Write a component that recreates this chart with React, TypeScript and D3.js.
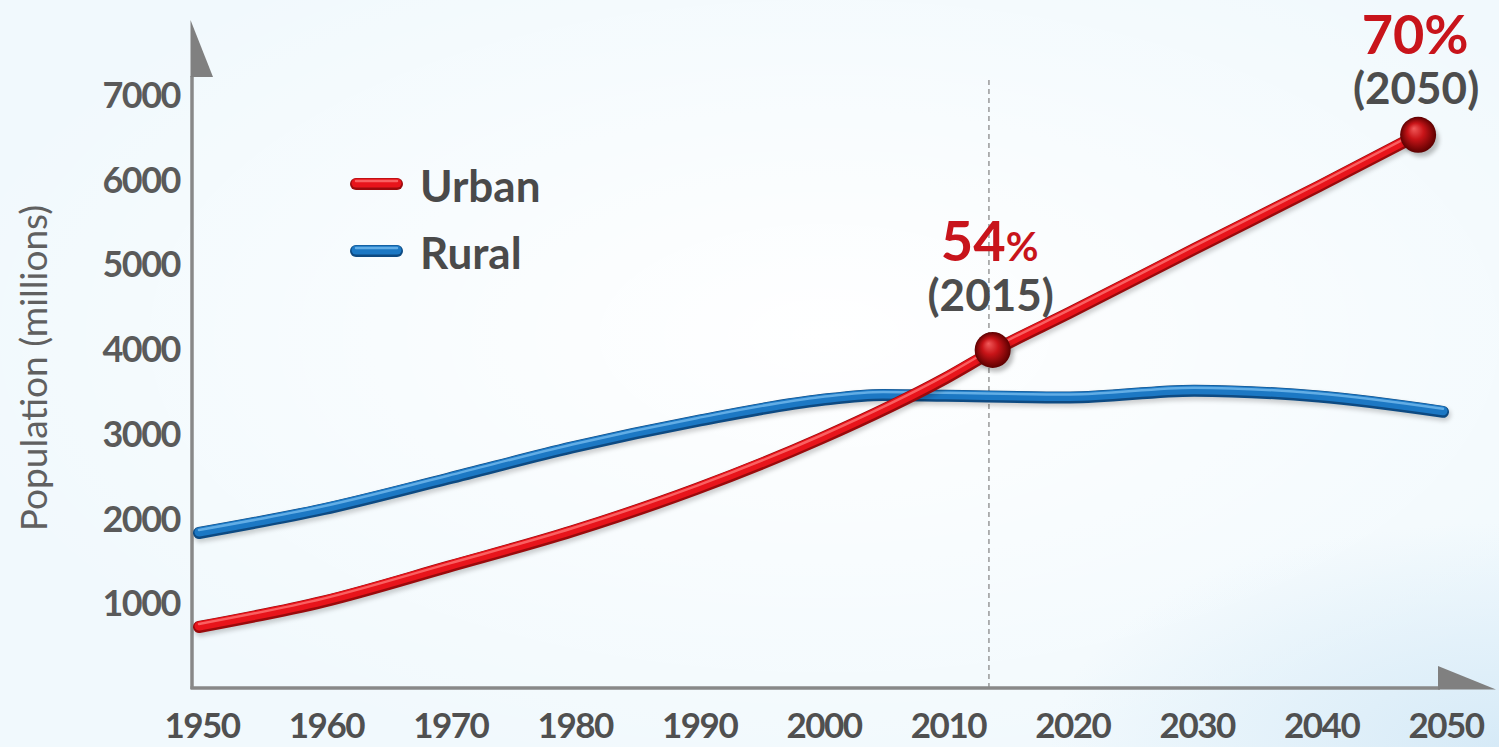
import React from 'react';
import * as d3 from 'd3';

// Population series (millions)
const urbanYears = [1950, 1960, 1970, 1980, 1990, 2000, 2010, 2014, 2020, 2030, 2040, 2048];
const urbanValues = [720, 1020, 1430, 1850, 2350, 2945, 3655, 3990, 4430, 5180, 5920, 6530];

const ruralYears = [1950, 1960, 1970, 1980, 1990, 2000, 2005, 2010, 2020, 2030, 2040, 2050];
const ruralValues = [1830, 2110, 2470, 2840, 3150, 3400, 3460, 3450, 3430, 3510, 3440, 3260];

// Axis ticks
const xTicks = [1950, 1960, 1970, 1980, 1990, 2000, 2010, 2020, 2030, 2040, 2050];
const yTicks = [1000, 2000, 3000, 4000, 5000, 6000, 7000];

// Highlighted points on the urban curve
const markerYears = [2013.8, 2048];
const markerValues = [3990, 6530];
const markerPct = ['54', '70'];
const markerLabels = ['(2015)', '(2050)'];
const guideYear = 2013.5;

const legendLabels = ['Urban', 'Rural'];

const W = 1499;
const H = 747;
const FONT = 'Lato, "Open Sans", sans-serif';

const tubes = [
  { dark: '#9a0a0c', mid: '#e8141b', light: '#ff7a7a' },
  { dark: '#0d4a82', mid: '#1c78c4', light: '#79bff0' },
];

const App = () => {
  // Scales
  const x = d3.scaleLinear().domain([1950, 2050]).range([199, 1443]);
  const y = d3.scaleLinear().domain([0, 7000]).range([688, 95]);

  const line = d3
    .line<[number, number]>()
    .x(d => x(d[0]))
    .y(d => y(d[1]))
    .curve(d3.curveMonotoneX);

  const urbanPath = line(urbanYears.map((yr, i) => [yr, urbanValues[i]])) || '';
  const ruralPath = line(ruralYears.map((yr, i) => [yr, ruralValues[i]])) || '';

  // Draw a "3D tube" look with stacked strokes
  const tube = (d: string, c: { dark: string; mid: string; light: string }, key: string) => (
    <g key={key} fill="none" strokeLinecap="round" strokeLinejoin="round">
      <path d={d} stroke="rgba(0,0,0,0.18)" strokeWidth={13} transform="translate(1.5,3)" filter="url(#blur)" />
      <path d={d} stroke={c.dark} strokeWidth={12} />
      <path d={d} stroke={c.mid} strokeWidth={9} transform="translate(0,-1)" />
      <path d={d} stroke={c.light} strokeWidth={2.5} opacity={0.75} transform="translate(0,-3)" />
    </g>
  );

  return (
    <svg width={W} height={H} style={{ position: 'absolute', left: 0, top: 0 }} fontFamily={FONT}>
      <defs>
        <radialGradient id="bgWhite" cx="0.55" cy="0.45" r="0.6">
          <stop offset="0%" stopColor="#ffffff" stopOpacity={1} />
          <stop offset="100%" stopColor="#ffffff" stopOpacity={0} />
        </radialGradient>
        <radialGradient id="bgBlue" cx="1" cy="1" r="0.3">
          <stop offset="0%" stopColor="#d6eaf7" stopOpacity={1} />
          <stop offset="100%" stopColor="#d6eaf7" stopOpacity={0} />
        </radialGradient>
        <radialGradient id="sphere" cx="0.5" cy="0.5" r="0.5" fx="0.38" fy="0.32">
          <stop offset="0%" stopColor="#f25a5a" />
          <stop offset="45%" stopColor="#c81418" />
          <stop offset="100%" stopColor="#5c0000" />
        </radialGradient>
        <filter id="blur" x="-10%" y="-10%" width="120%" height="120%">
          <feGaussianBlur stdDeviation="2" />
        </filter>
      </defs>

      {/* background */}
      <rect width={W} height={H} fill="#f1f9fd" />
      <rect width={W} height={H} fill="url(#bgWhite)" />
      <rect width={W} height={H} fill="url(#bgBlue)" />

      {/* dashed guide at 2015 */}
      <line
        x1={x(guideYear)}
        x2={x(guideYear)}
        y1={80}
        y2={688}
        stroke="#8a8a8a"
        strokeWidth={1.3}
        strokeDasharray="5 4"
      />

      {/* axes */}
      <line x1={192} x2={192} y1={76} y2={689} stroke="#888" strokeWidth={3.5} />
      <polygon points="190.5,20 213,77 190.5,77" fill="#808080" />
      <line x1={190.5} x2={1440} y1={688} y2={688} stroke="#888" strokeWidth={3.5} />
      <polygon points="1438,666 1496,689.5 1438,689.5" fill="#808080" />

      {/* y tick labels */}
      {yTicks.map(t => (
        <text
          key={t}
          x={180}
          y={y(t) + 13}
          textAnchor="end"
          fontSize={36}
          fontWeight="bold"
          fill="#5a5a5a"
          letterSpacing={-1.5}
        >
          {t}
        </text>
      ))}

      {/* x tick labels */}
      {xTicks.map(t => (
        <text
          key={t}
          x={x(t) + 3}
          y={738}
          textAnchor="middle"
          fontSize={35}
          fontWeight="bold"
          fill="#505050"
          letterSpacing={-1.5}
        >
          {t}
        </text>
      ))}

      {/* y axis title */}
      <text
        transform="translate(47,368) rotate(-90)"
        textAnchor="middle"
        fontSize={37}
        fill="#606060"
      >
        Population (millions)
      </text>

      {/* series */}
      {tube(ruralPath, tubes[1], 'rural')}
      {tube(urbanPath, tubes[0], 'urban')}

      {/* legend */}
      {legendLabels.map((lab, i) => {
        const ly = 184 + i * 67;
        return (
          <g key={lab}>
            {tube(`M356,${ly}H397`, tubes[i], 'leg' + i)}
            <text x={420} y={ly + 18} fontSize={44} fontWeight="bold" fill="#4a4a4a">
              {lab}
            </text>
          </g>
        );
      })}

      {/* markers and annotations */}
      {markerYears.map((yr, i) => {
        const mx = x(yr);
        const my = y(markerValues[i]);
        const pctDy = i === 0 ? -89 : -81;
        const labDy = i === 0 ? -39 : -31;
        return (
          <g key={yr}>
            <ellipse cx={mx + 3} cy={my + 5} rx={18} ry={17} fill="rgba(0,0,0,0.25)" filter="url(#blur)" />
            <circle cx={mx} cy={my} r={18} fill="url(#sphere)" />
            <text x={mx - 3} y={my + pctDy} textAnchor="middle" fontWeight="bold" fill="#c8141b" fontSize={i === 0 ? 56 : 54}>
              {markerPct[i]}
              <tspan fontSize={i === 0 ? 40 : 54}>%</tspan>
            </text>
            <text x={mx - 2} y={my + labDy} textAnchor="middle" fontWeight="bold" fill="#4d4d4d" fontSize={44}>
              {markerLabels[i]}
            </text>
          </g>
        );
      })}
    </svg>
  );
};

export default App;
